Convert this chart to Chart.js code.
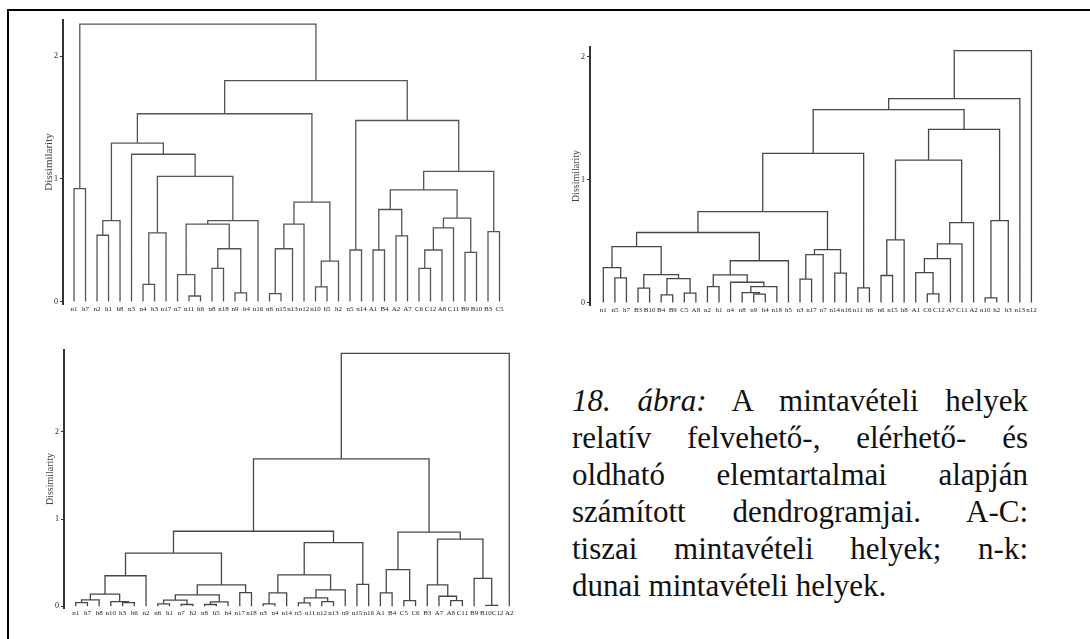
<!DOCTYPE html>
<html>
<head>
<meta charset="utf-8">
<script src="https://cdn.jsdelivr.net/npm/chart.js@4/dist/chart.umd.min.js"></script>
<style>
html, body { margin: 0; padding: 0; background: #fff; width: 1090px; height: 639px; overflow: hidden; position: relative; }
#frame { position: absolute; left: 7px; top: 9px; width: 1200px; height: 800px; border: 2px solid #000; }
canvas { position: absolute; }
#caption { position: absolute; left: 572px; top: 382px; width: 456px; font-family: "Liberation Serif", "Times New Roman", serif; font-size: 31px; line-height: 37px; color: #111; }
#caption div { text-align: justify; text-align-last: justify; }
#caption div.last { text-align-last: left; }
</style>
</head>
<body>
<div id="frame"></div>
<canvas id="c1"></canvas>
<canvas id="c2"></canvas>
<canvas id="c3"></canvas>
<div id="caption">
  <div><i>18. ábra:</i> A mintavételi helyek</div>
  <div>relatív felvehető-, elérhető- és</div>
  <div>oldható elemtartalmai alapján</div>
  <div>számított dendrogramjai. A-C:</div>
  <div>tiszai mintavételi helyek; n-k:</div>
  <div class="last">dunai mintavételi helyek.</div>
</div>
<script>
// leaf order and merges [childA, childB, height]; ids >= 38 point to earlier merges
const leaves1 = ["n1","h7","n2","h1","h8","n3","n4","h3","n17","n7","n11","h6","n8","n18","n9","h4","n16","n6","n15","n13","n12","n10","h5","h2","n5","n14","A1","B4","A2","A7","C6","C12","A8","C11","B9","B10","B3","C5"];
const merges1 = [
  [0,1,0.92],[2,3,0.54],[39,4,0.66],[6,7,0.14],[41,8,0.56],[10,11,0.045],[9,43,0.22],
  [12,13,0.27],[14,15,0.07],[45,46,0.43],[44,47,0.63],[48,16,0.66],[42,49,1.02],[5,50,1.20],
  [40,51,1.29],[17,18,0.065],[53,19,0.43],[54,20,0.63],[21,22,0.12],[56,23,0.33],[55,57,0.81],
  [52,58,1.53],[24,25,0.42],[26,27,0.42],[28,29,0.535],[61,62,0.75],[30,31,0.27],[64,32,0.42],
  [65,33,0.60],[34,35,0.40],[66,67,0.68],[63,68,0.91],[36,37,0.57],[69,70,1.06],[60,71,1.475],
  [59,72,1.80],[38,73,2.26]
];

const leaves2 = ["n1","n5","h7","B3","B10","B4","B9","C5","A8","n2","h1","n4","n8","n9","h4","n18","h5","n3","n17","n7","n14","n16","n11","h6","n6","n15","h8","A1","C6","C12","A7","C11","A2","n10","h2","h3","n13","n12"];
const merges2 = [
  [1,2,0.20],[0,38,0.285],[3,4,0.117],[5,6,0.062],[7,8,0.076],[41,42,0.195],[40,43,0.228],
  [39,44,0.455],[9,10,0.13],[13,14,0.068],[12,47,0.081],[48,15,0.13],[11,49,0.165],[46,50,0.225],
  [51,16,0.34],[45,52,0.57],[17,18,0.19],[54,19,0.39],[20,21,0.24],[55,56,0.43],[53,57,0.74],
  [22,23,0.12],[58,59,1.214],[24,25,0.22],[61,26,0.51],[28,29,0.07],[27,63,0.244],[64,30,0.358],
  [65,31,0.477],[66,32,0.65],[62,67,1.16],[33,34,0.038],[69,35,0.667],[68,70,1.41],[60,71,1.57],
  [72,36,1.66],[73,37,2.05]
];

const leaves3 = ["n1","h7","h8","n10","h3","h6","n2","n6","h1","n7","h2","n8","h5","h4","n17","n18","n3","n4","n14","n5","n11","n12","n13","n9","n15","n16","A1","B4","C5","C6","B3","A7","A8","C11","B9","B10","C12","A2"];
const merges3 = [
  [0,1,0.042],[38,2,0.073],[4,5,0.042],[3,40,0.054],[39,41,0.14],[42,6,0.35],[7,8,0.027],
  [9,10,0.02],[44,45,0.07],[11,12,0.02],[47,13,0.05],[46,48,0.13],[14,15,0.157],[49,50,0.245],
  [43,51,0.61],[16,17,0.027],[53,18,0.153],[19,20,0.038],[21,22,0.054],[55,56,0.096],[57,23,0.188],
  [54,58,0.36],[24,25,0.25],[59,60,0.73],[52,61,0.86],[26,27,0.153],[28,29,0.065],[63,64,0.42],
  [32,33,0.065],[31,66,0.115],[30,67,0.245],[35,36,0.01],[34,69,0.32],[68,70,0.77],[65,71,0.85],
  [62,72,1.69],[73,37,2.90]
];

const yTicks1 = [0, 1, 2];
const yTicks2 = [0, 1, 2];
const yTicks3 = [0, 1, 2];

const panels = [
  { id: "c1", leaves: leaves1, merges: merges1, yTicks: yTicks1, l: 63, t: 20, b: 303.5, xMin: -0.96, xMax: 38, yMax: 2.294, step: 11.5, titleSize: 11, color: "#555" },
  { id: "c2", leaves: leaves2, merges: merges2, yTicks: yTicks2, l: 590, t: 47, b: 305, xMin: -1.15, xMax: 38, yMax: 2.08, step: 11.56, titleSize: 10, color: "#474747" },
  { id: "c3", leaves: leaves3, merges: merges3, yTicks: yTicks3, l: 64, t: 350, b: 607.5, xMin: -1.0, xMax: 38, yMax: 2.939, step: 11.73, titleSize: 10, color: "#474747" }
];

const yW = 20, xH = 16, padT = 6, padR = 6;
const serif = "'Liberation Serif', 'Times New Roman', serif";

function dendroPoints(leaves, merges) {
  const xs = leaves.map((_, i) => i);
  const hs = leaves.map(() => 0);
  const pts = [];
  merges.forEach(([a, b, h]) => {
    pts.push({ x: xs[a], y: hs[a] }, { x: xs[a], y: h }, { x: xs[b], y: h }, { x: xs[b], y: hs[b] }, { x: xs[b], y: null });
    xs.push((xs[a] + xs[b]) / 2);
    hs.push(h);
  });
  return pts;
}

panels.forEach(p => {
  const canvas = document.getElementById(p.id);
  const r = p.l + (p.xMax - p.xMin) * p.step;
  const left = Math.round(p.l - yW);
  const top = Math.round(p.t - padT);
  const w = Math.round(r + padR - left);
  const h = Math.round(p.b + xH - top);
  canvas.width = w; canvas.height = h;
  canvas.style.left = left + "px"; canvas.style.top = top + "px";
  canvas.style.width = w + "px"; canvas.style.height = h + "px";

  new Chart(canvas, {
    type: "scatter",
    data: {
      datasets: [{
        data: dendroPoints(p.leaves, p.merges),
        showLine: true,
        spanGaps: false,
        borderColor: p.color,
        borderWidth: 1.3,
        pointRadius: 0
      }]
    },
    options: {
      responsive: false,
      animation: false,
      devicePixelRatio: 1,
      events: [],
      layout: { padding: { top: padT, right: padR, left: 0, bottom: 0 } },
      plugins: { legend: { display: false }, tooltip: { enabled: false } },
      scales: {
        x: {
          type: "linear",
          min: p.xMin,
          max: p.xMax,
          grid: { display: false, drawTicks: false },
          border: { display: false },
          afterBuildTicks: s => { s.ticks = p.leaves.map((_, i) => ({ value: i })); },
          afterFit: s => { s.height = xH; s.paddingLeft = 0; s.paddingRight = 0; },
          ticks: {
            autoSkip: false, maxRotation: 0, padding: 1, color: "#222",
            font: { family: serif, size: 7 },
            callback: v => p.leaves[v]
          }
        },
        y: {
          type: "linear",
          min: -0.02,
          max: p.yMax,
          afterBuildTicks: s => { s.ticks = p.yTicks.map(v => ({ value: v })); },
          afterFit: s => { s.width = yW; s.paddingTop = 0; s.paddingBottom = 0; },
          grid: { display: true, drawOnChartArea: false, drawTicks: true, tickLength: 3, color: "#333" },
          border: { display: true, width: 2, color: "#333" },
          ticks: { padding: 2, color: "#222", font: { family: serif, size: 8 } },
          title: { display: true, text: "Dissimilarity", color: "#444", padding: 0, font: { family: serif, size: p.titleSize } }
        }
      }
    }
  });
});
</script>
</body>
</html>
